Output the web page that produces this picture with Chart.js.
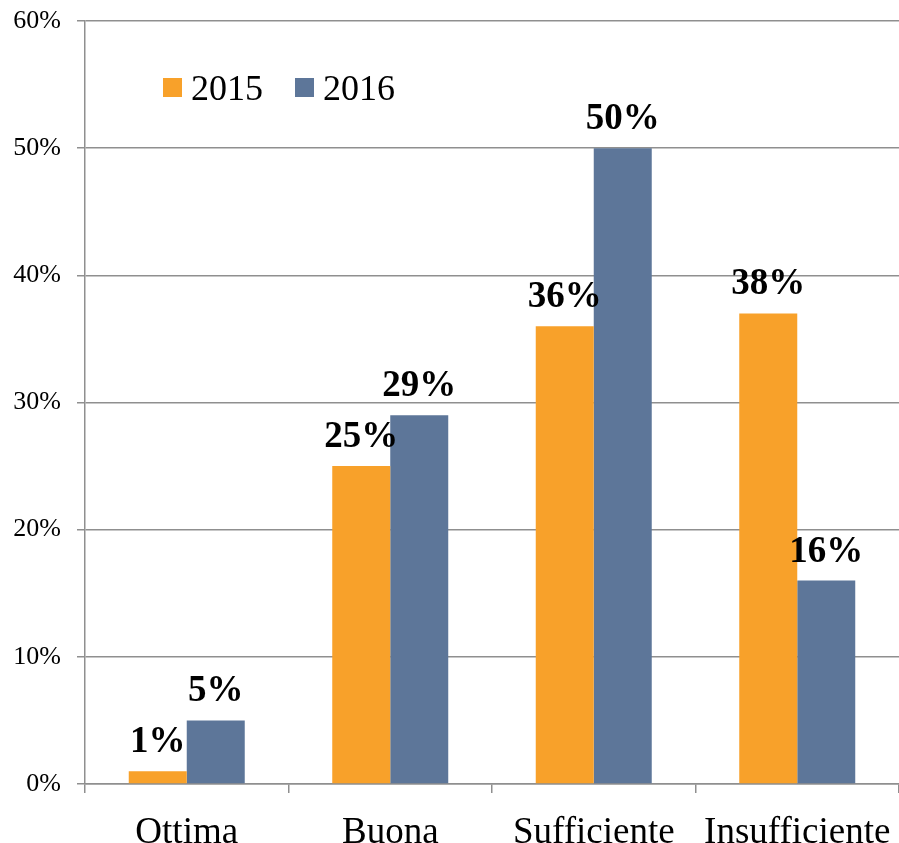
<!DOCTYPE html>
<html>
<head>
<meta charset="utf-8">
<script src="https://cdn.jsdelivr.net/npm/chart.js@4/dist/chart.umd.min.js"></script>
<style>
  html, body { margin: 0; padding: 0; background: #fff; }
  #wrap { width: 899px; height: 843px; position: relative; }
</style>
</head>
<body>
<div id="wrap"><canvas id="chart" width="899" height="843"></canvas></div>
<script>
const categories = ['Ottima', 'Buona', 'Sufficiente', 'Insufficiente'];
const series = ['2015', '2016'];
const values2015 = [1, 25, 36, 37];
const values2016 = [5, 29, 50, 16];
// labels as printed on the chart
const labels2015 = ['1%', '25%', '36%', '38%'];
const labels2016 = ['5%', '29%', '50%', '16%'];
const yMin = 0, yMax = 60, yStep = 10;

const ORANGE = '#F8A12A';
const BLUE = '#5D7699';
const GRID = '#8f8f8f';
const SERIF = '"Liberation Serif", "Times New Roman", serif';

// bold value labels above each bar
const valueLabels = {
  id: 'valueLabels',
  afterDatasetsDraw(chart) {
    const ctx = chart.ctx;
    const texts = [labels2015, labels2016];
    ctx.save();
    ctx.font = 'bold 37px ' + SERIF;
    ctx.fillStyle = '#000';
    ctx.textAlign = 'center';
    ctx.textBaseline = 'alphabetic';
    chart.data.datasets.forEach((ds, i) => {
      chart.getDatasetMeta(i).data.forEach((bar, j) => {
        ctx.fillText(texts[i][j], bar.x, bar.y - 19);
      });
    });
    ctx.restore();
  }
};

// legend drawn inside the plot, top left
const insideLegend = {
  id: 'insideLegend',
  afterDraw(chart) {
    const ctx = chart.ctx;
    const area = chart.chartArea;
    let x = area.left + 78;
    const y = area.top + 57;
    ctx.save();
    ctx.font = '36px ' + SERIF;
    ctx.textBaseline = 'alphabetic';
    ctx.textAlign = 'left';
    chart.data.datasets.forEach(ds => {
      ctx.fillStyle = ds.backgroundColor;
      ctx.fillRect(x, y, 19, 19);
      ctx.fillStyle = '#000';
      ctx.fillText(ds.label, x + 28, y + 22);
      x += 28 + ctx.measureText(ds.label).width + 32;
    });
    ctx.restore();
  }
};

new Chart(document.getElementById('chart'), {
  type: 'bar',
  data: {
    labels: categories,
    datasets: [
      { label: series[0], data: values2015, backgroundColor: ORANGE },
      { label: series[1], data: values2016, backgroundColor: BLUE },
    ],
  },
  options: {
    responsive: false,
    animation: false,
    devicePixelRatio: 1,
    layout: { padding: { top: 21, right: 0, left: 0, bottom: 0 } },
    datasets: { bar: { barPercentage: 1, categoryPercentage: 0.57 } },
    plugins: { legend: { display: false }, tooltip: { enabled: false } },
    scales: {
      x: {
        grid: { drawOnChartArea: false, drawTicks: true, tickLength: 9, offset: true, color: GRID, lineWidth: 1.5 },
        border: { color: GRID, width: 1.5 },
        ticks: { color: '#000', font: { family: SERIF, size: 37 }, padding: 18, maxRotation: 0 },
        afterFit(scale) {
          scale.height = 59;
          scale.paddingLeft = 0;
          scale.paddingRight = 0;
        },
      },
      y: {
        min: yMin,
        max: yMax,
        grid: { color: GRID, lineWidth: 1.5, tickLength: 8 },
        border: { color: GRID, width: 1.5 },
        ticks: {
          stepSize: yStep,
          color: '#000',
          padding: 16,
          font: { family: SERIF, size: 26 },
          callback: v => v + '%',
        },
        afterFit(scale) {
          scale.width = 85;
          scale.paddingTop = 0;
          scale.paddingBottom = 0;
        },
      },
    },
  },
  plugins: [valueLabels, insideLegend],
});
</script>
</body>
</html>
